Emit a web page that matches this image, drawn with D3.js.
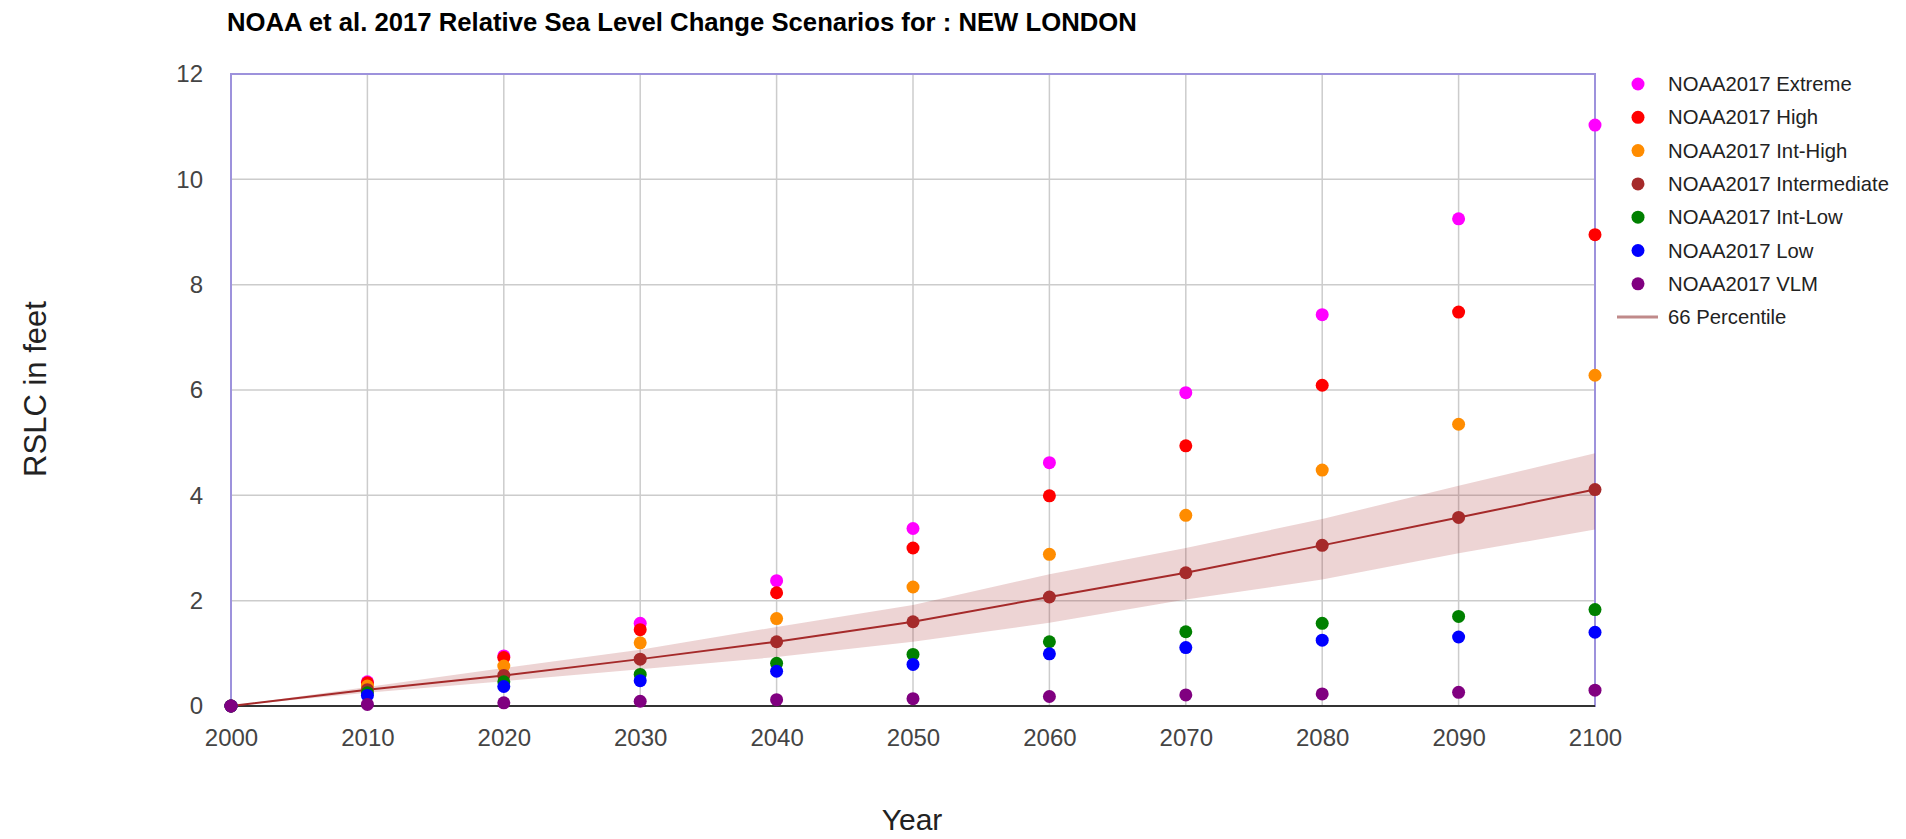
<!DOCTYPE html>
<html>
<head>
<meta charset="utf-8">
<script src="https://cdn.jsdelivr.net/npm/d3@7"></script>
<style>
  body { margin: 0; background: #fff; }
  svg { font-family: "Liberation Sans", Arial, sans-serif; }
</style>
</head>
<body>
<svg id="chart" width="1906" height="839"></svg>
<script>
const years = [2000, 2010, 2020, 2030, 2040, 2050, 2060, 2070, 2080, 2090, 2100];
const yTicks = [0, 2, 4, 6, 8, 10, 12];

const extreme = [0, 0.46, 0.95, 1.57, 2.38, 3.37, 4.62, 5.95, 7.43, 9.25, 11.03];
const high = [0, 0.44, 0.92, 1.45, 2.15, 3.0, 3.99, 4.94, 6.09, 7.48, 8.95];
const intHigh = [0, 0.38, 0.76, 1.2, 1.66, 2.26, 2.88, 3.62, 4.48, 5.35, 6.28];
const intermediate = [0, 0.31, 0.58, 0.89, 1.22, 1.6, 2.07, 2.53, 3.05, 3.58, 4.11];
const intLow = [0, 0.25, 0.46, 0.6, 0.81, 0.98, 1.22, 1.41, 1.57, 1.7, 1.83];
const low = [0, 0.2, 0.37, 0.48, 0.66, 0.79, 0.99, 1.11, 1.25, 1.31, 1.4];
const vlm = [0, 0.03, 0.06, 0.09, 0.12, 0.14, 0.18, 0.21, 0.23, 0.26, 0.3];

// 66 percentile band around the intermediate curve
const bandLow = [0, 0.25, 0.47, 0.7, 0.93, 1.22, 1.58, 2.02, 2.4, 2.9, 3.35];
const bandHigh = [0, 0.36, 0.72, 1.07, 1.5, 1.92, 2.5, 3.0, 3.55, 4.18, 4.8];

const seriesNames = ["NOAA2017 Extreme", "NOAA2017 High", "NOAA2017 Int-High", "NOAA2017 Intermediate",
    "NOAA2017 Int-Low", "NOAA2017 Low", "NOAA2017 VLM"];
const seriesColors = ["#ff00ff", "#ff0000", "#ff8c00", "#a52a2a", "#008000", "#0000ff", "#800080"];
const seriesValues = [extreme, high, intHigh, intermediate, intLow, low, vlm];

const margin = { left: 231, right: 311, top: 74, bottom: 133 };
const width = 1906, height = 839;

const svg = d3.select("#chart");

const x = d3.scaleLinear().domain([2000, 2100]).range([margin.left, width - margin.right]);
const y = d3.scaleLinear().domain([0, 12]).range([height - margin.bottom, margin.top]);

// grid
svg.append("g")
    .selectAll("line")
    .data(yTicks)
    .enter()
    .append("line")
    .attr("x1", x(2000)).attr("x2", x(2100))
    .attr("y1", (d) => y(d)).attr("y2", (d) => y(d))
    .attr("stroke", "#cccccc").attr("stroke-width", 1.5);

svg.append("g")
    .selectAll("line")
    .data(years)
    .enter()
    .append("line")
    .attr("x1", (d) => x(d)).attr("x2", (d) => x(d))
    .attr("y1", y(0)).attr("y2", y(12))
    .attr("stroke", "#cccccc").attr("stroke-width", 1.5);

// frame
svg.append("rect")
    .attr("x", x(2000)).attr("y", y(12))
    .attr("width", x(2100) - x(2000)).attr("height", y(0) - y(12))
    .attr("fill", "none").attr("stroke", "#9d92dc").attr("stroke-width", 2);

// band
const bandData = years.map((yr, i) => ({ yr, lo: bandLow[i], hi: bandHigh[i], mid: intermediate[i] }));
svg.append("path")
    .datum(bandData)
    .attr("d", d3.area().x((d) => x(d.yr)).y0((d) => y(d.lo)).y1((d) => y(d.hi)))
    .attr("fill", "#a52a2a").attr("fill-opacity", 0.2);

// baseline axis
svg.append("line")
    .attr("x1", x(2000)).attr("x2", x(2100))
    .attr("y1", y(0)).attr("y2", y(0))
    .attr("stroke", "#333").attr("stroke-width", 2);

svg.append("path")
    .datum(bandData)
    .attr("d", d3.line().x((d) => x(d.yr)).y((d) => y(d.mid)))
    .attr("fill", "none").attr("stroke", "#a52a2a").attr("stroke-width", 2);

// points
seriesValues.forEach((vals, s) => {
    svg.append("g")
        .selectAll("circle")
        .data(vals.map((v, i) => ({ yr: years[i], v })))
        .enter()
        .append("circle")
        .attr("cx", (d) => x(d.yr))
        .attr("cy", (d) => y(d.v))
        .attr("r", 6.5)
        .attr("fill", seriesColors[s]);
});

// axes labels
const xAxis = d3.axisBottom(x).tickValues(years).tickFormat(d3.format("d")).tickSize(0).tickPadding(23);
svg.append("g")
    .attr("transform", `translate(0,${y(0)})`)
    .call(xAxis)
    .call((g) => g.select(".domain").remove())
    .selectAll("text")
    .attr("font-size", 24).attr("fill", "#444").attr("font-family", "Liberation Sans, Arial");

const yAxis = d3.axisLeft(y).tickValues(yTicks).tickSize(0).tickPadding(28);
svg.append("g")
    .attr("transform", `translate(${x(2000)},0)`)
    .call(yAxis)
    .call((g) => g.select(".domain").remove())
    .selectAll("text")
    .attr("font-size", 24).attr("fill", "#444").attr("font-family", "Liberation Sans, Arial");

// titles
svg.append("text")
    .attr("x", 227).attr("y", 31)
    .attr("font-size", 25.7).attr("font-weight", "bold").attr("fill", "#000")
    .text("NOAA et al. 2017 Relative Sea Level Change Scenarios for : NEW LONDON");

svg.append("text")
    .attr("x", 912).attr("y", 830)
    .attr("text-anchor", "middle")
    .attr("font-size", 30).attr("fill", "#222")
    .text("Year");

svg.append("text")
    .attr("transform", "translate(46,389) rotate(-90)")
    .attr("text-anchor", "middle")
    .attr("font-size", 31).attr("fill", "#222")
    .text("RSLC in feet");

// legend
const legend = svg.append("g").attr("transform", "translate(1638,84)");
const rows = legend.selectAll("g")
    .data(seriesNames)
    .enter()
    .append("g")
    .attr("transform", (d, i) => `translate(0,${i * 33.3})`);
rows.append("circle").attr("r", 6.5).attr("fill", (d, i) => seriesColors[i]);
rows.append("text")
    .attr("x", 30).attr("dy", "0.35em")
    .attr("font-size", 20.3).attr("fill", "#222")
    .text((d) => d);

const pct = legend.append("g").attr("transform", `translate(0,${7 * 33.3})`);
pct.append("line")
    .attr("x1", -21).attr("x2", 20)
    .attr("stroke", "#c08a8a").attr("stroke-width", 3);
pct.append("text")
    .attr("x", 30).attr("dy", "0.35em")
    .attr("font-size", 20.3).attr("fill", "#222")
    .text("66 Percentile");
</script>
</body>
</html>
